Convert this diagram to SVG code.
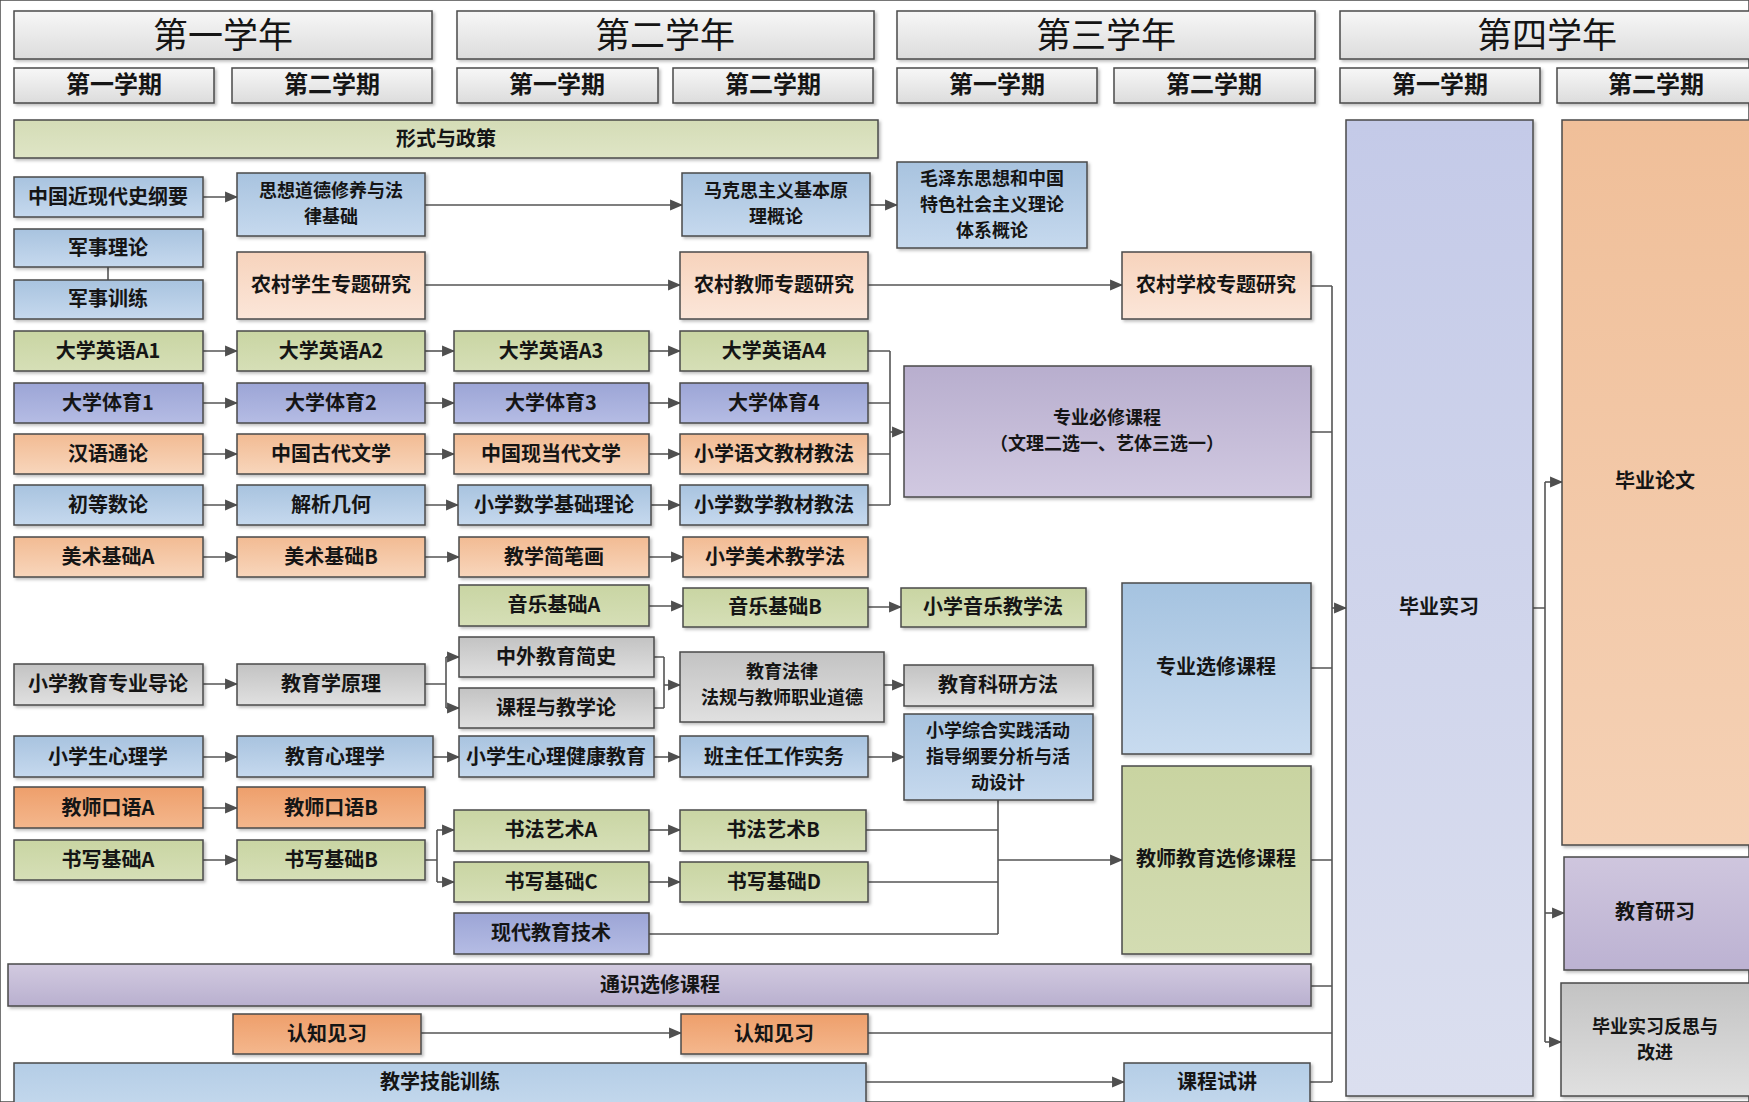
<svg xmlns="http://www.w3.org/2000/svg" width="1749" height="1102" viewBox="0 0 1749 1102">
<style>
text{font-family:"Noto Sans CJK SC","Noto Sans",sans-serif;fill:#151515;text-anchor:middle;dominant-baseline:central;transform:translateY(-2px)}
.t{font-size:20px;font-weight:bold}
.m{font-size:18px;font-weight:bold}
.yr{font-size:35px;font-weight:normal;transform:translateY(-3px)}
.sm{font-size:24px;font-weight:bold;transform:translateY(-3px)}
rect{stroke:#4a4a4a;stroke-width:1.5}
.b{filter:url(#sh)}
#connectors path{fill:none;stroke:#555;stroke-width:1.6}
.ar{marker-end:url(#arr)}
</style>
<defs>
<filter id="sh" x="-5%" y="-5%" width="115%" height="120%"><feDropShadow dx="2" dy="2" stdDeviation="1.5" flood-color="#000" flood-opacity="0.25"/></filter>
<marker id="arr" markerUnits="userSpaceOnUse" markerWidth="13" markerHeight="13" viewBox="0 0 12 12" refX="11" refY="6" orient="auto"><path d="M0,1 L12,6 L0,11 z" fill="#4f4f4f"/></marker>
<linearGradient id="gHead" x1="0" y1="0" x2="0" y2="1"><stop offset="0" stop-color="#f7f7f7"/><stop offset="1" stop-color="#dcdcdc"/></linearGradient>
<linearGradient id="gGreen" x1="0" y1="0" x2="0" y2="1"><stop offset="0" stop-color="#c9d5a3"/><stop offset="1" stop-color="#d6dfb7"/></linearGradient>
<linearGradient id="gGreen2" x1="0" y1="0" x2="0" y2="1"><stop offset="0" stop-color="#d4dcb6"/><stop offset="1" stop-color="#dfe5c6"/></linearGradient>
<linearGradient id="gBlue" x1="0" y1="0" x2="0" y2="1"><stop offset="0" stop-color="#a8c3df"/><stop offset="1" stop-color="#c6d9ee"/></linearGradient>
<linearGradient id="gPB" x1="0" y1="0" x2="0" y2="1"><stop offset="0" stop-color="#9ca5d6"/><stop offset="1" stop-color="#b5bce4"/></linearGradient>
<linearGradient id="gOr" x1="0" y1="0" x2="0" y2="1"><stop offset="0" stop-color="#f2bb93"/><stop offset="1" stop-color="#f8d6bc"/></linearGradient>
<linearGradient id="gPeach" x1="0" y1="0" x2="0" y2="1"><stop offset="0" stop-color="#f7d3bc"/><stop offset="1" stop-color="#fbe6d9"/></linearGradient>
<linearGradient id="gOrS" x1="0" y1="0" x2="0" y2="1"><stop offset="0" stop-color="#ee9f6b"/><stop offset="1" stop-color="#f4b78d"/></linearGradient>
<linearGradient id="gGray" x1="0" y1="0" x2="0" y2="1"><stop offset="0" stop-color="#c3c3c3"/><stop offset="1" stop-color="#e0e0e0"/></linearGradient>
<linearGradient id="gLav" x1="0" y1="0" x2="0" y2="1"><stop offset="0" stop-color="#b8aece"/><stop offset="1" stop-color="#d1c9e1"/></linearGradient>
<linearGradient id="gIntern" x1="0" y1="0" x2="0" y2="1"><stop offset="0" stop-color="#c4cae8"/><stop offset="1" stop-color="#dbdfef"/></linearGradient>
<linearGradient id="gThesis" x1="0" y1="0" x2="0" y2="1"><stop offset="0" stop-color="#f0bf99"/><stop offset="1" stop-color="#f5d1b5"/></linearGradient>
<linearGradient id="gStudy" x1="0" y1="0" x2="0" y2="1"><stop offset="0" stop-color="#cfc6de"/><stop offset="1" stop-color="#bcb2d2"/></linearGradient>
<linearGradient id="gGen" x1="0" y1="0" x2="0" y2="1"><stop offset="0" stop-color="#d2cae0"/><stop offset="1" stop-color="#b9b0cf"/></linearGradient>
<linearGradient id="gSkill" x1="0" y1="0" x2="0" y2="1"><stop offset="0" stop-color="#b4cde6"/><stop offset="1" stop-color="#c2d7ec"/></linearGradient>
<linearGradient id="gEl" x1="0" y1="0" x2="0" y2="1"><stop offset="0" stop-color="#a5c3e0"/><stop offset="1" stop-color="#c8dbef"/></linearGradient>
<linearGradient id="gTE" x1="0" y1="0" x2="0" y2="1"><stop offset="0" stop-color="#c9d4a1"/><stop offset="1" stop-color="#d3dcb2"/></linearGradient>
</defs>
<rect x="0" y="0" width="1749" height="1102" fill="#fff" stroke="none"/>

<g id="headers">
<g id="y1"><rect class="b" x="14" y="11" width="418" height="48" fill="url(#gHead)"/><text class="yr" x="223" y="35">第一学年</text></g>
<g id="y2"><rect class="b" x="457" y="11" width="417" height="48" fill="url(#gHead)"/><text class="yr" x="665" y="35">第二学年</text></g>
<g id="y3"><rect class="b" x="897" y="11" width="418" height="48" fill="url(#gHead)"/><text class="yr" x="1106" y="35">第三学年</text></g>
<g id="y4"><rect class="b" x="1340" y="11" width="415" height="48" fill="url(#gHead)"/><text class="yr" x="1547" y="35">第四学年</text></g>
<g id="s1"><rect class="b" x="14" y="68" width="200" height="35" fill="url(#gHead)"/><text class="sm" x="114" y="85">第一学期</text></g>
<g id="s2"><rect class="b" x="232" y="68" width="200" height="35" fill="url(#gHead)"/><text class="sm" x="332" y="85">第二学期</text></g>
<g id="s3"><rect class="b" x="457" y="68" width="201" height="35" fill="url(#gHead)"/><text class="sm" x="557" y="85">第一学期</text></g>
<g id="s4"><rect class="b" x="673" y="68" width="200" height="35" fill="url(#gHead)"/><text class="sm" x="773" y="85">第二学期</text></g>
<g id="s5"><rect class="b" x="897" y="68" width="200" height="35" fill="url(#gHead)"/><text class="sm" x="997" y="85">第一学期</text></g>
<g id="s6"><rect class="b" x="1114" y="68" width="201" height="35" fill="url(#gHead)"/><text class="sm" x="1214" y="85">第二学期</text></g>
<g id="s7"><rect class="b" x="1340" y="68" width="200" height="35" fill="url(#gHead)"/><text class="sm" x="1440" y="85">第一学期</text></g>
<g id="s8"><rect class="b" x="1557" y="68" width="198" height="35" fill="url(#gHead)"/><text class="sm" x="1656" y="85">第二学期</text></g>
</g>

<g id="connectors">
<path class="ar" d="M203,197 H237"/>
<path class="ar" d="M425,205 H682"/>
<path class="ar" d="M870,205 H897"/>
<path d="M108,267 V280"/>
<path class="ar" d="M425,285 H680"/>
<path class="ar" d="M868,285 H1122"/>
<path class="ar" d="M203,351 H237"/><path class="ar" d="M425,351 H454"/><path class="ar" d="M649,351 H680"/>
<path class="ar" d="M203,403 H237"/><path class="ar" d="M425,403 H454"/><path class="ar" d="M649,403 H680"/>
<path class="ar" d="M203,454 H237"/><path class="ar" d="M425,454 H454"/><path class="ar" d="M649,454 H680"/>
<path class="ar" d="M203,505 H237"/><path class="ar" d="M425,505 H458"/><path class="ar" d="M651,505 H680"/>
<path class="ar" d="M203,557 H237"/><path class="ar" d="M425,557 H459"/><path class="ar" d="M649,557 H683"/>
<path d="M868,351 H890 M868,403 H890 M868,454 H890 M868,505 H890 M890,351 V505"/>
<path class="ar" d="M890,432 H904"/>
<path class="ar" d="M649,606 H683"/>
<path class="ar" d="M868,607 H901"/>
<path class="ar" d="M203,684 H237"/>
<path d="M425,684 H446 M446,657 V708"/>
<path class="ar" d="M446,657 H459"/><path class="ar" d="M446,708 H459"/>
<path d="M654,657 H664 M654,708 H664 M664,657 V708"/>
<path class="ar" d="M664,685 H680"/>
<path class="ar" d="M884,685 H904"/>
<path class="ar" d="M203,757 H237"/><path class="ar" d="M433,757 H459"/><path class="ar" d="M654,757 H680"/><path class="ar" d="M868,757 H904"/>
<path class="ar" d="M203,808 H237"/>
<path class="ar" d="M203,860 H237"/>
<path d="M425,860 H437 M437,830 V882"/>
<path class="ar" d="M437,830 H454"/><path class="ar" d="M437,882 H454"/>
<path class="ar" d="M649,830 H680"/>
<path class="ar" d="M649,882 H680"/>
<path d="M866,830 H998 M868,882 H998 M649,934 H998 M998,800 V934"/>
<path class="ar" d="M998,860 H1122"/>
<path class="ar" d="M421,1033 H681"/>
<path class="ar" d="M866,1082 H1124"/>
<path d="M1311,286 H1332 M1311,432 H1332 M1311,668 H1332 M1311,860 H1332 M1311,986 H1332 M868,1033 H1332 M1310,1082 H1332 M1332,286 V1082"/>
<path class="ar" d="M1332,608 H1346"/>
<path d="M1533,608 H1545 M1545,482 V1042"/>
<path class="ar" d="M1545,482 H1562"/>
<path class="ar" d="M1545,913 H1564"/>
<path class="ar" d="M1545,1042 H1561"/>
</g>

<g id="n-xingshi"><rect class="b" x="14" y="120" width="864" height="38" fill="url(#gGreen2)"/><text class="t" x="446" y="139">形式与政策</text></g>
<g id="n-zgjxd"><rect class="b" x="14" y="177" width="189" height="40" fill="url(#gBlue)"/><text class="t" x="108" y="197">中国近现代史纲要</text></g>
<g id="n-sxdd"><rect class="b" x="237" y="173" width="188" height="63" fill="url(#gBlue)"/><text class="m" x="331" y="191">思想道德修养与法</text><text class="m" x="331" y="217">律基础</text></g>
<g id="n-mks"><rect class="b" x="682" y="173" width="188" height="63" fill="url(#gBlue)"/><text class="m" x="776" y="191">马克思主义基本原</text><text class="m" x="776" y="217">理概论</text></g>
<g id="n-mzd"><rect class="b" x="897" y="162" width="190" height="86" fill="url(#gBlue)"/><text class="m" x="992" y="179">毛泽东思想和中国</text><text class="m" x="992" y="205">特色社会主义理论</text><text class="m" x="992" y="231">体系概论</text></g>
<g id="n-jsll"><rect class="b" x="14" y="229" width="189" height="38" fill="url(#gBlue)"/><text class="t" x="108" y="248">军事理论</text></g>
<g id="n-jsxl"><rect class="b" x="14" y="280" width="189" height="39" fill="url(#gBlue)"/><text class="t" x="108" y="299">军事训练</text></g>
<g id="n-ncxs"><rect class="b" x="237" y="252" width="188" height="67" fill="url(#gPeach)"/><text class="t" x="331" y="285">农村学生专题研究</text></g>
<g id="n-ncjs"><rect class="b" x="680" y="252" width="188" height="67" fill="url(#gPeach)"/><text class="t" x="774" y="285">农村教师专题研究</text></g>
<g id="n-ncxx"><rect class="b" x="1122" y="252" width="189" height="67" fill="url(#gPeach)"/><text class="t" x="1216" y="285">农村学校专题研究</text></g>

<g id="n-en1"><rect class="b" x="14" y="331" width="189" height="40" fill="url(#gGreen)"/><text class="t" x="108" y="351">大学英语A1</text></g>
<g id="n-en2"><rect class="b" x="237" y="331" width="188" height="40" fill="url(#gGreen)"/><text class="t" x="331" y="351">大学英语A2</text></g>
<g id="n-en3"><rect class="b" x="454" y="331" width="195" height="40" fill="url(#gGreen)"/><text class="t" x="551" y="351">大学英语A3</text></g>
<g id="n-en4"><rect class="b" x="680" y="331" width="188" height="40" fill="url(#gGreen)"/><text class="t" x="774" y="351">大学英语A4</text></g>
<g id="n-pe1"><rect class="b" x="14" y="383" width="189" height="40" fill="url(#gPB)"/><text class="t" x="108" y="403">大学体育1</text></g>
<g id="n-pe2"><rect class="b" x="237" y="383" width="188" height="40" fill="url(#gPB)"/><text class="t" x="331" y="403">大学体育2</text></g>
<g id="n-pe3"><rect class="b" x="454" y="383" width="195" height="40" fill="url(#gPB)"/><text class="t" x="551" y="403">大学体育3</text></g>
<g id="n-pe4"><rect class="b" x="680" y="383" width="188" height="40" fill="url(#gPB)"/><text class="t" x="774" y="403">大学体育4</text></g>
<g id="n-hytl"><rect class="b" x="14" y="434" width="189" height="40" fill="url(#gOr)"/><text class="t" x="108" y="454">汉语通论</text></g>
<g id="n-zggd"><rect class="b" x="237" y="434" width="188" height="40" fill="url(#gOr)"/><text class="t" x="331" y="454">中国古代文学</text></g>
<g id="n-zgxd"><rect class="b" x="454" y="434" width="195" height="40" fill="url(#gOr)"/><text class="t" x="551" y="454">中国现当代文学</text></g>
<g id="n-xxyw"><rect class="b" x="680" y="434" width="188" height="40" fill="url(#gOr)"/><text class="t" x="774" y="454">小学语文教材教法</text></g>
<g id="n-cdsl"><rect class="b" x="14" y="485" width="189" height="40" fill="url(#gBlue)"/><text class="t" x="108" y="505">初等数论</text></g>
<g id="n-jxjh"><rect class="b" x="237" y="485" width="188" height="40" fill="url(#gBlue)"/><text class="t" x="331" y="505">解析几何</text></g>
<g id="n-xxsxjc"><rect class="b" x="458" y="485" width="193" height="40" fill="url(#gBlue)"/><text class="t" x="554" y="505">小学数学基础理论</text></g>
<g id="n-xxsxjf"><rect class="b" x="680" y="485" width="188" height="40" fill="url(#gBlue)"/><text class="t" x="774" y="505">小学数学教材教法</text></g>
<g id="n-msa"><rect class="b" x="14" y="537" width="189" height="40" fill="url(#gOr)"/><text class="t" x="108" y="557">美术基础A</text></g>
<g id="n-msb"><rect class="b" x="237" y="537" width="188" height="40" fill="url(#gOr)"/><text class="t" x="331" y="557">美术基础B</text></g>
<g id="n-jxjbh"><rect class="b" x="459" y="537" width="190" height="40" fill="url(#gOr)"/><text class="t" x="554" y="557">教学简笔画</text></g>
<g id="n-xxms"><rect class="b" x="683" y="537" width="185" height="40" fill="url(#gOr)"/><text class="t" x="775" y="557">小学美术教学法</text></g>
<g id="n-zybx"><rect class="b" x="904" y="366" width="407" height="131" fill="url(#gLav)"/><text class="m" x="1107" y="418">专业必修课程</text><text class="m" x="1107" y="444">（文理二选一、艺体三选一）</text></g>

<g id="n-yya"><rect class="b" x="459" y="585" width="190" height="41" fill="url(#gGreen)"/><text class="t" x="554" y="605">音乐基础A</text></g>
<g id="n-yyb"><rect class="b" x="683" y="588" width="185" height="39" fill="url(#gGreen)"/><text class="t" x="775" y="607">音乐基础B</text></g>
<g id="n-xxyy"><rect class="b" x="901" y="588" width="185" height="39" fill="url(#gGreen)"/><text class="t" x="993" y="607">小学音乐教学法</text></g>
<g id="n-xxjydl"><rect class="b" x="14" y="664" width="189" height="41" fill="url(#gGray)"/><text class="t" x="108" y="684">小学教育专业导论</text></g>
<g id="n-jyxyl"><rect class="b" x="237" y="664" width="188" height="41" fill="url(#gGray)"/><text class="t" x="331" y="684">教育学原理</text></g>
<g id="n-zwjy"><rect class="b" x="459" y="637" width="195" height="40" fill="url(#gGray)"/><text class="t" x="556" y="657">中外教育简史</text></g>
<g id="n-kcjx"><rect class="b" x="459" y="688" width="195" height="40" fill="url(#gGray)"/><text class="t" x="556" y="708">课程与教学论</text></g>
<g id="n-jyfl"><rect class="b" x="680" y="652" width="204" height="70" fill="url(#gGray)"/><text class="m" x="782" y="672">教育法律</text><text class="m" x="782" y="698">法规与教师职业道德</text></g>
<g id="n-jyky"><rect class="b" x="904" y="665" width="189" height="41" fill="url(#gGray)"/><text class="t" x="998" y="685">教育科研方法</text></g>
<g id="n-zhsj"><rect class="b" x="904" y="714" width="189" height="86" fill="url(#gBlue)"/><text class="m" x="998" y="731">小学综合实践活动</text><text class="m" x="998" y="757">指导纲要分析与活</text><text class="m" x="998" y="783">动设计</text></g>
<g id="n-zyxx"><rect class="b" x="1122" y="583" width="189" height="171" fill="url(#gEl)"/><text class="t" x="1216" y="667">专业选修课程</text></g>
<g id="n-jsjyxx"><rect class="b" x="1122" y="766" width="189" height="188" fill="url(#gTE)"/><text class="t" x="1216" y="859">教师教育选修课程</text></g>
<g id="n-xxsxl"><rect class="b" x="14" y="736" width="189" height="41" fill="url(#gBlue)"/><text class="t" x="108" y="757">小学生心理学</text></g>
<g id="n-jyxl"><rect class="b" x="237" y="736" width="196" height="41" fill="url(#gBlue)"/><text class="t" x="335" y="757">教育心理学</text></g>
<g id="n-xljk"><rect class="b" x="459" y="736" width="195" height="41" fill="url(#gBlue)"/><text class="t" x="556" y="757">小学生心理健康教育</text></g>
<g id="n-bzr"><rect class="b" x="680" y="736" width="188" height="41" fill="url(#gBlue)"/><text class="t" x="774" y="757">班主任工作实务</text></g>
<g id="n-kya"><rect class="b" x="14" y="787" width="189" height="41" fill="url(#gOrS)"/><text class="t" x="108" y="808">教师口语A</text></g>
<g id="n-kyb"><rect class="b" x="237" y="787" width="188" height="41" fill="url(#gOrS)"/><text class="t" x="331" y="808">教师口语B</text></g>
<g id="n-sfa"><rect class="b" x="454" y="810" width="195" height="41" fill="url(#gGreen)"/><text class="t" x="551" y="830">书法艺术A</text></g>
<g id="n-sfb"><rect class="b" x="680" y="810" width="186" height="41" fill="url(#gGreen)"/><text class="t" x="773" y="830">书法艺术B</text></g>
<g id="n-sxa"><rect class="b" x="14" y="840" width="189" height="40" fill="url(#gGreen)"/><text class="t" x="108" y="860">书写基础A</text></g>
<g id="n-sxb"><rect class="b" x="237" y="840" width="188" height="40" fill="url(#gGreen)"/><text class="t" x="331" y="860">书写基础B</text></g>
<g id="n-sxc"><rect class="b" x="454" y="862" width="195" height="40" fill="url(#gGreen)"/><text class="t" x="551" y="882">书写基础C</text></g>
<g id="n-sxd"><rect class="b" x="680" y="862" width="188" height="40" fill="url(#gGreen)"/><text class="t" x="774" y="882">书写基础D</text></g>
<g id="n-xdjy"><rect class="b" x="454" y="913" width="195" height="41" fill="url(#gPB)"/><text class="t" x="551" y="933">现代教育技术</text></g>
<g id="n-tsxx"><rect class="b" x="8" y="964" width="1303" height="42" fill="url(#gGen)"/><text class="t" x="660" y="985">通识选修课程</text></g>
<g id="n-rzjx1"><rect class="b" x="233" y="1014" width="188" height="40" fill="url(#gOrS)"/><text class="t" x="327" y="1034">认知见习</text></g>
<g id="n-rzjx2"><rect class="b" x="681" y="1014" width="187" height="40" fill="url(#gOrS)"/><text class="t" x="774" y="1034">认知见习</text></g>
<g id="n-jxjn"><rect class="b" x="14" y="1063" width="852" height="40" fill="url(#gSkill)"/><text class="t" x="440" y="1082">教学技能训练</text></g>
<g id="n-kcsj"><rect class="b" x="1124" y="1063" width="186" height="40" fill="url(#gSkill)"/><text class="t" x="1217" y="1082">课程试讲</text></g>
<g id="n-bysx"><rect class="b" x="1346" y="120" width="187" height="976" fill="url(#gIntern)"/><text class="t" x="1439" y="607">毕业实习</text></g>
<g id="n-bylw"><rect class="b" x="1562" y="120" width="195" height="725" fill="url(#gThesis)"/><text class="t" x="1655" y="481">毕业论文</text></g>
<g id="n-jyyx"><rect class="b" x="1564" y="857" width="193" height="113" fill="url(#gStudy)"/><text class="t" x="1655" y="912">教育研习</text></g>
<g id="n-fs"><rect class="b" x="1561" y="983" width="196" height="113" fill="url(#gGray)"/><text class="m" x="1655" y="1027">毕业实习反思与</text><text class="m" x="1655" y="1053">改进</text></g>
</svg>
